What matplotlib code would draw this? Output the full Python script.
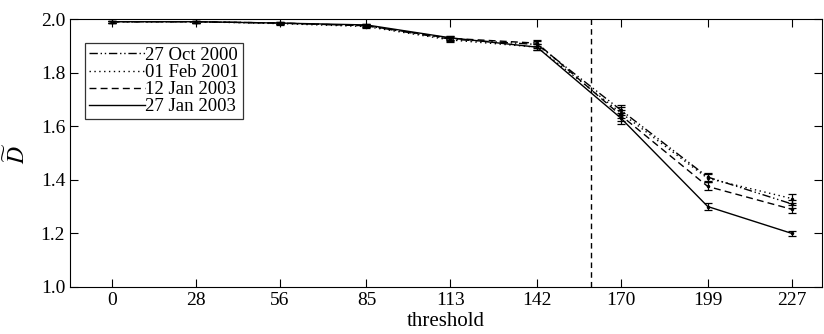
import matplotlib

matplotlib.use("Agg")

import matplotlib.pyplot as plt
from matplotlib.lines import Line2D

plt.rcParams["font.family"] = "Liberation Serif"
plt.rcParams["mathtext.fontset"] = "stix"

thresholds = [0, 28, 56, 85, 113, 142, 170, 199, 227]

d_oct2000 = [1.99, 1.99, 1.985, 1.975, 1.925, 1.905, 1.66, 1.41, 1.31]
d_feb2001 = [1.99, 1.99, 1.983, 1.972, 1.922, 1.895, 1.65, 1.405, 1.33]
d_jan2003a = [1.99, 1.99, 1.985, 1.975, 1.928, 1.91, 1.64, 1.375, 1.29]
d_jan2003b = [1.99, 1.99, 1.985, 1.978, 1.93, 1.895, 1.63, 1.30, 1.20]

err_oct2000 = [0.003, 0.003, 0.004, 0.005, 0.008, 0.012, 0.02, 0.015, 0.015]
err_feb2001 = [0.003, 0.003, 0.004, 0.005, 0.008, 0.012, 0.02, 0.015, 0.015]
err_jan2003a = [0.003, 0.003, 0.004, 0.005, 0.008, 0.012, 0.02, 0.015, 0.015]
err_jan2003b = [0.003, 0.003, 0.004, 0.005, 0.008, 0.012, 0.02, 0.012, 0.01]

labels = ["27 Oct 2000", "01 Feb 2001", "12 Jan 2003", "27 Jan 2003"]
cutoff = 160

fig = plt.figure(figsize=(8.24, 3.34), dpi=100)
ax = fig.add_axes([0.085, 0.141, 0.912, 0.802])

series = [
    (d_oct2000, err_oct2000, (0, (6, 2, 1, 2, 1, 2))),
    (d_feb2001, err_feb2001, (0, (1, 2.5))),
    (d_jan2003a, err_jan2003a, (0, (5, 3))),
    (d_jan2003b, err_jan2003b, "-"),
]
handles = []
for (vals, errs, ls), lab in zip(series, labels):
    ax.errorbar(
        thresholds, vals, yerr=errs, color="black", linestyle=ls, linewidth=1.0,
        marker=".", markersize=3, capsize=3, elinewidth=0.9, capthick=0.9,
    )
    handles.append(Line2D([0], [0], color="black", linestyle=ls, linewidth=1.0, label=lab))

ax.axvline(cutoff, color="black", linestyle=(0, (4, 3)), linewidth=1.0)

ax.set_xlim(-14, 237)
ax.set_ylim(1.0, 2.0)
ax.set_xticks(thresholds)
ax.set_yticks([1.0, 1.2, 1.4, 1.6, 1.8, 2.0])
ax.set_yticklabels(["1.0", "1.2", "1.4", "1.6", "1.8", "2.0"])
ax.tick_params(direction="in", top=True, right=True, labelsize=14, length=6, width=0.8)
ax.set_xlabel("threshold", fontsize=15, labelpad=2)
ax.set_ylabel(r"$\widetilde{D}$", fontsize=17, labelpad=8)

leg = ax.legend(
    handles=handles, loc="upper left", bbox_to_anchor=(0.02, 0.91), fontsize=13.5,
    frameon=True, fancybox=False, edgecolor="black", handlelength=3.0,
    handletextpad=0.0, borderpad=0.2, labelspacing=0.0, borderaxespad=0,
)
leg.get_frame().set_linewidth(0.9)

fig.savefig("out.png", dpi=100)
